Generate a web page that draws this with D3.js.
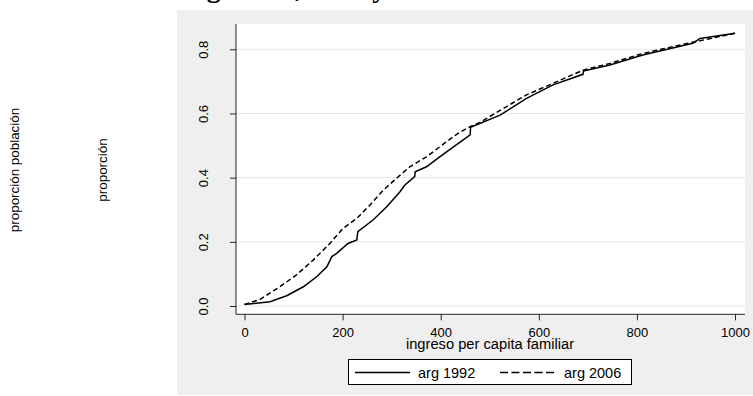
<!DOCTYPE html>
<html>
<head>
<meta charset="utf-8">
<script src="https://cdn.jsdelivr.net/npm/d3@7/dist/d3.min.js"></script>
<style>
  html, body { margin: 0; padding: 0; background: #ffffff; }
  svg { display: block; }
  text { font-family: "Liberation Sans", Arial, sans-serif; fill: #000; }
</style>
</head>
<body>
<svg id="chart" width="753" height="396"></svg>
<script>
// ---- data ----
const titleText = "Argentina, 1992 y 2006";
const yLabelOuter = "proporción población";
const yLabelInner = "proporción";
const xLabel = "ingreso per capita familiar";
const seriesNames = ["arg 1992", "arg 2006"];

const xTicks = [0, 200, 400, 600, 800, 1000];
const yTicks = [0.0, 0.2, 0.4, 0.6, 0.8];

const inc1992 = [0, 52, 86, 120, 147, 168, 178, 188, 211, 229, 231, 262, 290, 317, 327, 347, 348, 371, 398, 426, 441, 460, 461, 521, 575, 629, 690, 691, 745, 812, 914, 929, 1000];
const p1992   = [0.005, 0.013, 0.032, 0.060, 0.091, 0.122, 0.154, 0.164, 0.195, 0.206, 0.232, 0.268, 0.309, 0.356, 0.377, 0.403, 0.418, 0.434, 0.465, 0.496, 0.512, 0.533, 0.557, 0.595, 0.647, 0.689, 0.722, 0.732, 0.751, 0.782, 0.819, 0.834, 0.850];

const inc2006 = [0, 31, 72, 106, 140, 174, 201, 229, 256, 283, 310, 337, 371, 398, 426, 441, 460, 482, 528, 575, 629, 690, 745, 812, 914, 1000];
const p2006   = [0.005, 0.020, 0.060, 0.097, 0.143, 0.195, 0.242, 0.273, 0.315, 0.361, 0.398, 0.434, 0.465, 0.496, 0.528, 0.543, 0.559, 0.574, 0.616, 0.658, 0.694, 0.735, 0.756, 0.787, 0.822, 0.850];

// ---- layout ----
const svg = d3.select("#chart");
const W = 753, H = 396;
const panel = { x: 177, y: 10, w: 576, h: 385 };
const plot = { left: 236, right: 745, top: 24, bottom: 314.3 };

const x = d3.scaleLinear().domain([0, 1000]).range([244.5, 735]);
const y = d3.scaleLinear().domain([0, 0.8]).range([306, 49.3]);

svg.append("rect").attr("width", W).attr("height", H).attr("fill", "#ffffff");
svg.append("rect").attr("x", panel.x).attr("y", panel.y)
   .attr("width", panel.w).attr("height", panel.h).attr("fill", "#efefef");
svg.append("rect").attr("x", plot.left).attr("y", plot.top)
   .attr("width", plot.right - plot.left).attr("height", plot.bottom - plot.top)
   .attr("fill", "#ffffff");

// title (mostly cut off at the top of the page)
svg.append("text").attr("x", 174).attr("y", -3)
   .style("font-family", "'Liberation Serif', 'Times New Roman', serif")
   .style("font-weight", "bold").style("font-size", "28px")
   .text(titleText);

// gridlines
svg.append("g").selectAll("line").data(yTicks).join("line")
   .attr("x1", plot.left).attr("x2", plot.right)
   .attr("y1", d => y(d)).attr("y2", d => y(d))
   .attr("stroke", "#e6e6e6").attr("stroke-width", 1);

// y axis
const gy = svg.append("g").attr("transform", `translate(${plot.left},0)`)
  .call(d3.axisLeft(y).tickValues(yTicks).tickFormat(d3.format(".1f")).tickSize(6).tickSizeOuter(0));
gy.select(".domain").remove();
gy.selectAll(".tick line").attr("stroke", "#222");
gy.selectAll(".tick text")
  .attr("x", null).attr("dy", null)
  .attr("transform", "translate(-28.5,0) rotate(-90)")
  .attr("text-anchor", "middle")
  .style("font-size", "13px").style("font-family", "'Liberation Sans', Arial, sans-serif")
  .attr("fill", "#000");

// x axis
const gx = svg.append("g").attr("transform", `translate(0,${plot.bottom})`)
  .call(d3.axisBottom(x).tickValues(xTicks).tickFormat(d3.format("d")).tickSize(6).tickSizeOuter(0));
gx.select(".domain").remove();
gx.selectAll(".tick line").attr("stroke", "#222");
gx.selectAll(".tick text")
  .attr("y", 22.7).attr("dy", null)
  .style("font-size", "13px").style("font-family", "'Liberation Sans', Arial, sans-serif")
  .attr("fill", "#000");

// axis lines
svg.append("line").attr("x1", plot.left).attr("x2", plot.left)
   .attr("y1", plot.top).attr("y2", plot.bottom).attr("stroke", "#222").attr("stroke-width", 1);
svg.append("line").attr("x1", plot.left).attr("x2", plot.right)
   .attr("y1", plot.bottom).attr("y2", plot.bottom).attr("stroke", "#222").attr("stroke-width", 1);

// curves
const line = d3.line().x(d => x(d[0])).y(d => y(d[1]));
const d1992 = inc1992.map((v, i) => [v, p1992[i]]);
const d2006 = inc2006.map((v, i) => [v, p2006[i]]);

svg.append("path").datum(d1992).attr("d", line)
   .attr("fill", "none").attr("stroke", "#000").attr("stroke-width", 1.5)
   .attr("stroke-linejoin", "miter");
svg.append("path").datum(d2006).attr("d", line)
   .attr("fill", "none").attr("stroke", "#000").attr("stroke-width", 1.5)
   .attr("stroke-dasharray", "5,3");

// axis titles
svg.append("text").attr("x", 490).attr("y", 349).attr("text-anchor", "middle")
   .style("font-size", "14.7px").text(xLabel);

svg.append("text").attr("transform", "translate(18.5,170) rotate(-90)")
   .attr("text-anchor", "middle").style("font-size", "13.4px").text(yLabelOuter);
svg.append("text").attr("transform", "translate(106.5,170) rotate(-90)")
   .attr("text-anchor", "middle").style("font-size", "13.4px").text(yLabelInner);

// legend
svg.append("rect").attr("x", 348.5).attr("y", 359.5).attr("width", 283).attr("height", 25)
   .attr("fill", "#ffffff").attr("stroke", "#000").attr("stroke-width", 1);
const legendItems = [
  { name: seriesNames[0], x1: 355, x2: 410, tx: 418, dash: null },
  { name: seriesNames[1], x1: 500, x2: 557, tx: 564, dash: "8,3.5" }
];
const lg = svg.append("g");
lg.selectAll("line").data(legendItems).join("line")
  .attr("x1", d => d.x1).attr("x2", d => d.x2)
  .attr("y1", 372.5).attr("y2", 372.5)
  .attr("stroke", "#000").attr("stroke-width", 1.3)
  .attr("stroke-dasharray", d => d.dash);
lg.selectAll("text").data(legendItems).join("text")
  .attr("x", d => d.tx).attr("y", 377.5)
  .style("font-size", "14.5px").text(d => d.name);
</script>
</body>
</html>
